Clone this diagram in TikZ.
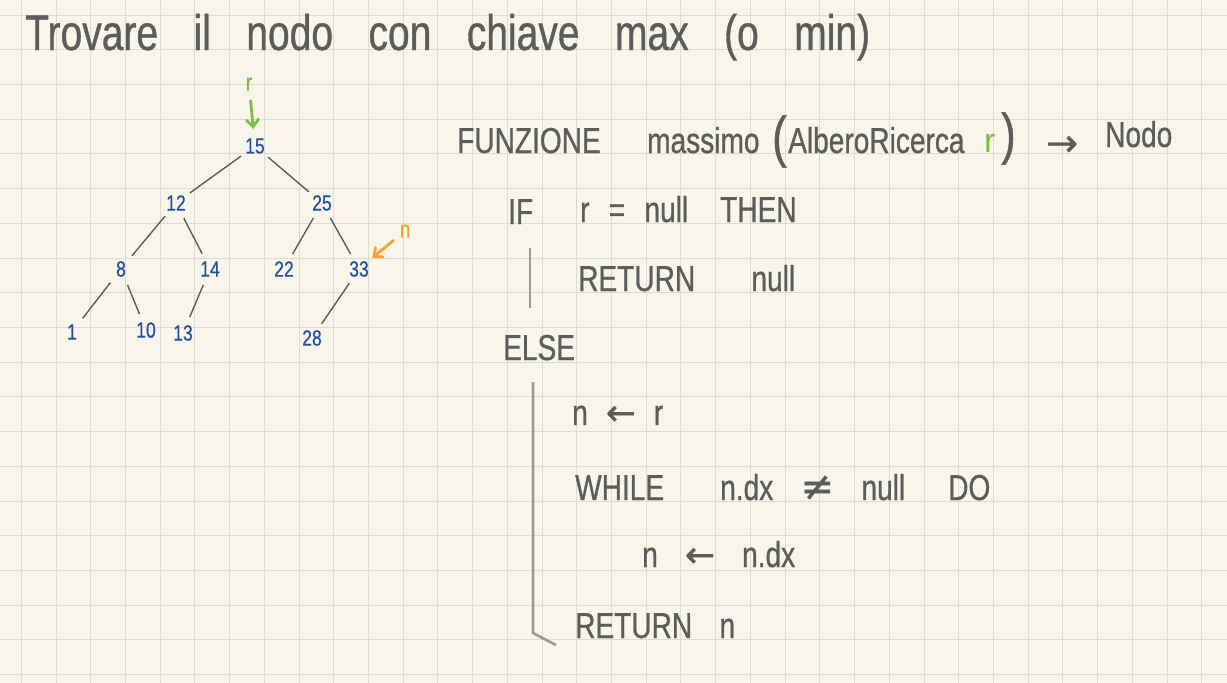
\documentclass[tikz,border=0pt]{standalone}
\usepackage{fontspec}
\setmainfont{Liberation Sans}
\newfontfamily\hwfont[FakeStretch=0.78,FakeBold=0.7]{Liberation Sans}
\newfontfamily\keyfont[FakeStretch=0.8,FakeBold=0.4]{Liberation Sans}
\newfontfamily\symfont[FakeBold=0.7]{DejaVu Sans}
\usetikzlibrary{arrows.meta}
\definecolor{paper}{HTML}{F8F6EB}
\definecolor{gridc}{HTML}{DEDBCF}
\definecolor{ink}{HTML}{5C5C5C}
\definecolor{inkblue}{HTML}{1F4FA0}
\definecolor{inkgreen}{HTML}{77C043}
\definecolor{inkorange}{HTML}{F4A231}
\definecolor{barc}{HTML}{9A9A9A}
\begin{document}
\begin{tikzpicture}[x=1pt,y=-1pt,
  gridline/.style={draw=gridc,line width=1pt},
  titletext/.style={font=\hwfont\fontsize{50}{50}\selectfont,text=ink,anchor=base west,inner sep=0pt},
  code/.style={font=\hwfont\fontsize{36}{36}\selectfont,text=ink,anchor=base west,inner sep=0pt},
  bigparen/.style={font=\hwfont\fontsize{56}{56}\selectfont,text=ink,anchor=base west,inner sep=0pt},
  sym/.style={font=\symfont\fontsize{38}{38}\selectfont,text=ink,anchor=base west,inner sep=0pt},
  key/.style={circle,inner sep=0pt,minimum size=34pt,font=\keyfont\fontsize{22}{22}\selectfont,text=inkblue},
  treeedge/.style={draw=ink,line width=1.4pt},
  pointer/.style={line width=2.8pt,line cap=round,-{Straight Barb[length=7pt,width=12pt,line cap=round]}},
  bar/.style={draw=barc,line width=2.6pt},
  marker/.style={inner sep=3pt,font=\hwfont\fontsize{24}{24}\selectfont},
]
\useasboundingbox (0,0) rectangle (1227,683);
\fill[paper] (0,0) rectangle (1227,683);
% grid
\foreach \i in {0,...,34} \draw[gridline] ({21.3+34.72*\i},0) -- ({21.3+34.72*\i},683);
\foreach \j in {0,...,19} \draw[gridline] (0,{15+34.72*\j}) -- (1227,{15+34.72*\j});

% title
\node[titletext] (title) at (25,50) {\makebox[845pt][s]{Trovare il nodo con chiave max (o min)}};

% tree
\node[key] (n15) at (255,146) {15};
\node[key] (n12) at (176,203) {12};
\node[key] (n25) at (322,203) {25};
\node[key] (n8)  at (121,269) {8};
\node[key] (n14) at (210,269) {14};
\node[key] (n22) at (284,269) {22};
\node[key] (n33) at (359,269) {33};
\node[key] (n1)  at (72,332) {1};
\node[key] (n10) at (146,330) {10};
\node[key] (n13) at (183,333) {13};
\node[key] (n28) at (312,338) {28};
\draw[treeedge] (n15) -- (n12);
\draw[treeedge] (n15) -- (n25);
\draw[treeedge] (n12) -- (n8);
\draw[treeedge] (n12) -- (n14);
\draw[treeedge] (n25) -- (n22);
\draw[treeedge] (n25) -- (n33);
\draw[treeedge] (n8) -- (n1);
\draw[treeedge] (n8) -- (n10);
\draw[treeedge] (n14) -- (n13);
\draw[treeedge] (n33) -- (n28);

% pointers
\node[marker,text=inkgreen] (rlabel) at (249,84) {r};
\node[marker,text=inkorange] (nlabel) at (405,231) {n};
\draw[pointer,inkgreen,shorten <=7pt] (rlabel) -- (n15);
\draw[pointer,inkorange,shorten <=4pt] (nlabel) -- (n33);

% pseudocode header
\node[code] (fun) at (457,153) {FUNZIONE};
\node[code] (fname) at (647,153) {massimo};
\node[bigparen] (lpar) at (772,156) {(};
\node[code] (ptype) at (788,153) {AlberoRicerca};
\node[code,font=\fontsize{34}{34}\selectfont,text=inkgreen] (pname) at (984,152) {r};
\node[bigparen] (rpar) at (1001,153) {)};
\node[sym] (ret) at (1046,156) {→};
\node[code] (rtype) at (1105,147) {Nodo};

% IF
\node[code] (kif) at (508,224) {IF};
\node[code] (cond) at (580,222) {\makebox[108pt][s]{r = null}};
\node[code] (kthen) at (720,222) {THEN};
\node[code] (ret1) at (578,291) {\makebox[217pt][s]{RETURN null}};
\coordinate (ifbartop) at (530,248);
\coordinate (ifbarbot) at (530,308);
\draw[bar] (ifbartop) -- (ifbarbot);

% ELSE
\node[code] (kelse) at (503,360) {ELSE};
\coordinate (elsetop) at (533,382);
\coordinate (elsecorner) at (533,633);
\coordinate (elseend) at (556,645);
\draw[bar] (elsetop) -- (elsecorner) -- (elseend);

\node[code] (assign1) at (572,425) {\makebox[91pt][s]{n {\symfont ←} r}};
\node[code] (kwhile) at (575,500) {WHILE};
\node[code] (wcond) at (720,500) {\makebox[185pt][s]{n.dx {\symfont\fontsize{40}{40}\selectfont ≠} null}};
\node[code] (kdo) at (948,500) {DO};
\node[code] (assign2) at (642,567) {\makebox[153pt][s]{n {\symfont ←} n.dx}};
\node[code] (ret2) at (575,638) {\makebox[160pt][s]{RETURN n}};
\end{tikzpicture}
\end{document}
